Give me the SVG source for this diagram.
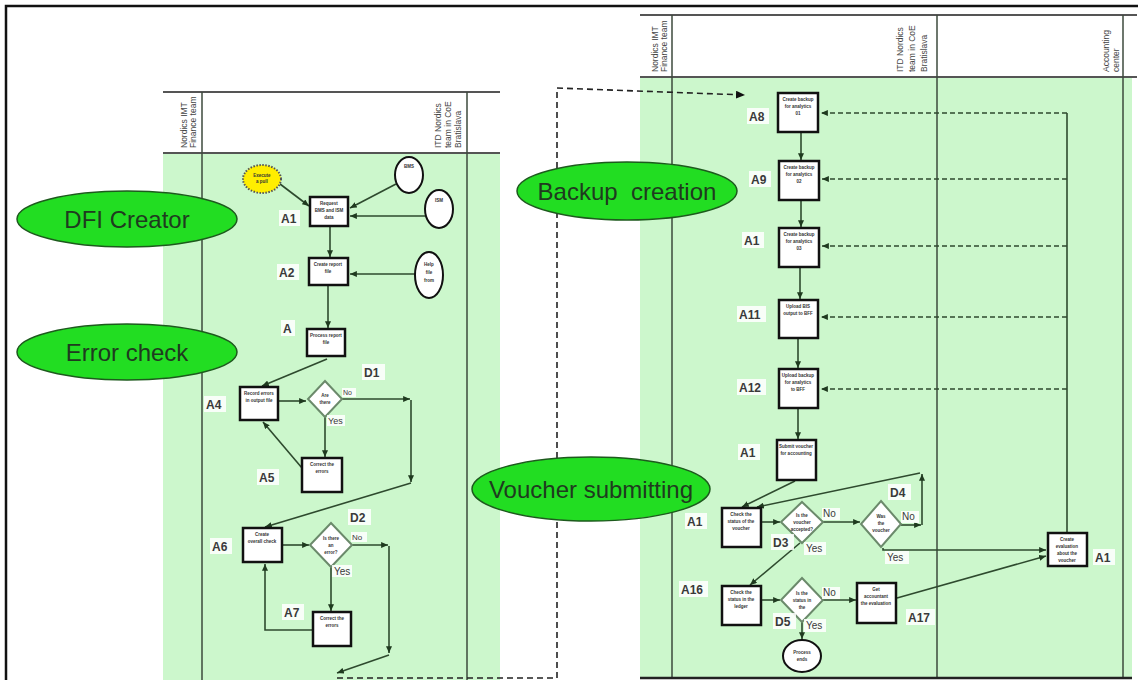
<svg xmlns="http://www.w3.org/2000/svg" width="1138" height="680" viewBox="0 0 1138 680">
<style>
.panel{fill:#ccf7cc}
.lane{stroke:#3c4a3c;stroke-width:1.5;fill:none}
.hl{stroke:#555;stroke-width:1.8;fill:none}
.ht{font-family:"Liberation Sans",Arial,sans-serif;font-size:8.5px;fill:#444}
.big{fill:#22dd22;stroke:#1d5a1d;stroke-width:1.5}
.bt{font-family:"Liberation Sans",Arial,sans-serif;font-size:24px;fill:#1f3a1f;text-anchor:middle}
.box{fill:#fff;stroke:#111;stroke-width:2.5}
.dia{fill:#fff;stroke:#6b8a6b;stroke-width:2}
.ell{fill:#fff;stroke:#111;stroke-width:2}
.nt{font-family:"Liberation Sans",Arial,sans-serif;font-size:4.5px;font-weight:bold;fill:#333;text-anchor:middle}
.lb{font-family:"Liberation Sans",Arial,sans-serif;font-size:12px;font-weight:bold;fill:#3a3a3a}
.yn{font-family:"Liberation Sans",Arial,sans-serif;font-size:9px;fill:#3a3a3a}
.lbg{fill:#fff;opacity:0.85}
.c{stroke:#2e4a2e;stroke-width:1.6;fill:none;marker-end:url(#ah)}
.cn{stroke:#2e4a2e;stroke-width:1.6;fill:none}
.cd{stroke:#2e4a2e;stroke-width:1.5;fill:none;stroke-dasharray:5 3;marker-end:url(#ah)}
.big-d{stroke:#222;stroke-width:1.6;fill:none;stroke-dasharray:6 4;marker-end:url(#ahk)}
</style>
<defs>
<marker id="ah" viewBox="0 0 8 7" refX="8" refY="3.5" markerWidth="7" markerHeight="6" markerUnits="userSpaceOnUse" orient="auto"><path d="M0,0 L8,3.5 L0,7 z" fill="#1f3a1f"/></marker>
<marker id="ahk" viewBox="0 0 8 7" refX="8" refY="3.5" markerWidth="9" markerHeight="8" markerUnits="userSpaceOnUse" orient="auto"><path d="M0,0 L8,3.5 L0,7 z" fill="#111"/></marker>
</defs>
<rect width="1138" height="680" fill="#fff"/>
<path d="M6,680 V6 H1138" stroke="#111" stroke-width="2.5" fill="none"/>

<!-- left panel -->
<g id="left-panel">
<rect class="panel" x="163" y="153" width="337" height="527"/>
<line class="hl" x1="163" y1="92" x2="500" y2="92"/>
<line class="hl" x1="163" y1="153" x2="500" y2="153"/>
<line class="lane" x1="202" y1="92" x2="202" y2="680"/>
<line class="lane" x1="467" y1="92" x2="467" y2="680"/>
<g class="ht">
<text transform="translate(187,148) rotate(-90)">Nordics IMT</text>
<text transform="translate(196,148) rotate(-90)">Finance team</text>
<text transform="translate(441,148) rotate(-90)">ITD Nordics</text>
<text transform="translate(451,148) rotate(-90)">team in CoE</text>
<text transform="translate(461,148) rotate(-90)">Bratislava</text>
</g>
</g>

<!-- right panel -->
<g id="right-panel">
<rect class="panel" x="640" y="77" width="492" height="601"/>
<line class="hl" x1="640" y1="15" x2="1137" y2="15"/>
<line class="hl" x1="640" y1="77" x2="1137" y2="77"/>
<line class="lane" x1="672" y1="15" x2="672" y2="678"/>
<line class="lane" x1="937" y1="15" x2="937" y2="678"/>
<line class="lane" x1="1123" y1="15" x2="1123" y2="678"/>
<line x1="640" y1="678" x2="1132" y2="678" stroke="#222" stroke-width="2.5"/>
<g class="ht">
<text transform="translate(658,72) rotate(-90)">Nordics IMT</text>
<text transform="translate(667,72) rotate(-90)">Finance team</text>
<text transform="translate(903,72) rotate(-90)">ITD Nordics</text>
<text transform="translate(915,72) rotate(-90)">team in CoE</text>
<text transform="translate(927,72) rotate(-90)">Bratislava</text>
<text transform="translate(1109,72) rotate(-90)">Accounting</text>
<text transform="translate(1119,72) rotate(-90)">center</text>
</g>
</g>

<!-- connectors -->
<g id="connectors">
<line class="c" x1="280" y1="184" x2="309" y2="206"/>
<line class="c" x1="396" y1="184" x2="350" y2="208"/>
<line class="c" x1="425" y1="216" x2="350" y2="216"/>
<line class="c" x1="330" y1="227" x2="330" y2="257"/>
<line class="c" x1="415" y1="274" x2="350" y2="274"/>
<line class="c" x1="328" y1="286" x2="328" y2="328"/>
<line class="c" x1="327" y1="359" x2="262" y2="386"/>
<line class="c" x1="279" y1="401" x2="306" y2="401"/>
<line class="c" x1="342" y1="399" x2="410" y2="399"/>
<line class="c" x1="411" y1="400" x2="411" y2="482"/>
<line class="c" x1="411" y1="483" x2="265" y2="527"/>
<line class="c" x1="325" y1="417" x2="325" y2="457"/>
<line class="c" x1="302" y1="468" x2="263" y2="422"/>
<line class="c" x1="283" y1="545" x2="309" y2="545"/>
<line class="c" x1="352" y1="545" x2="388" y2="545"/>
<line class="c" x1="389" y1="546" x2="389" y2="653"/>
<line class="c" x1="389" y1="655" x2="337" y2="673"/>
<line class="c" x1="331" y1="567" x2="331" y2="611"/>
<polyline class="c" points="313,630 265,630 265,564"/>
<path class="big-d" d="M337,678 H557 V88 L745,95"/>

<line class="c" x1="801" y1="133" x2="801" y2="160"/>
<line class="c" x1="801" y1="201" x2="801" y2="227"/>
<line class="c" x1="800" y1="268" x2="800" y2="299"/>
<line class="c" x1="798" y1="339" x2="798" y2="368"/>
<line class="c" x1="798" y1="409" x2="798" y2="439"/>
<line class="c" x1="795" y1="481" x2="742" y2="507"/>
<line class="c" x1="762" y1="522" x2="780" y2="522"/>
<line class="c" x1="823" y1="522" x2="860" y2="522"/>
<line class="c" x1="901" y1="525" x2="921" y2="525"/>
<line class="c" x1="922" y1="525" x2="922" y2="474"/>
<line class="c" x1="920" y1="473" x2="757" y2="507"/>
<polyline class="c" points="883,548 883,550 1046,550"/>
<line class="c" x1="800" y1="543" x2="750" y2="585"/>
<line class="c" x1="762" y1="600" x2="780" y2="600"/>
<line class="c" x1="823" y1="600" x2="856" y2="600"/>
<line class="c" x1="897" y1="598" x2="1046" y2="556"/>
<line class="c" x1="802" y1="622" x2="802" y2="639"/>
<line class="cn" x1="1067" y1="113" x2="1067" y2="533"/>
<line class="cd" x1="1067" y1="113" x2="821" y2="113"/>
<line class="cd" x1="1067" y1="179" x2="822" y2="179"/>
<line class="cd" x1="1067" y1="246" x2="822" y2="246"/>
<line class="cd" x1="1067" y1="317" x2="821" y2="317"/>
<line class="cd" x1="1067" y1="389" x2="821" y2="389"/>
</g>

<!-- phase ellipses -->
<g id="phase-dfi"><ellipse class="big" cx="127" cy="219" rx="110" ry="28"/><text class="bt" x="127" y="228">DFI Creator</text></g>
<g id="phase-error"><ellipse class="big" cx="127" cy="352" rx="110" ry="28"/><text class="bt" x="127" y="361">Error check</text></g>
<g id="phase-backup"><ellipse class="big" cx="627" cy="191" rx="110" ry="29"/><text class="bt" x="627" y="200" xml:space="preserve">Backup  creation</text></g>
<g id="phase-voucher"><ellipse class="big" cx="591" cy="489" rx="119" ry="32"/><text class="bt" x="591" y="498">Voucher submitting</text></g>

<!-- left nodes -->
<g id="start"><ellipse cx="262" cy="179" rx="19" ry="14" fill="#ffee00" stroke="#555" stroke-width="2" stroke-dasharray="1.5 1.5"/><text class="nt" x="262" y="177">Execute</text><text class="nt" x="262" y="183">a pull</text></g>
<g id="in-bms"><ellipse class="ell" cx="409" cy="175" rx="14" ry="18"/><text class="nt" x="409" y="168">BMS</text></g>
<g id="in-ism"><ellipse class="ell" cx="439" cy="209" rx="14" ry="19"/><text class="nt" x="439" y="202">ISM</text></g>
<g id="in-help"><ellipse class="ell" cx="429" cy="275" rx="14" ry="23"/><text class="nt" x="429" y="266">Help</text><text class="nt" x="429" y="274">file</text><text class="nt" x="429" y="282">from</text></g>
<g id="A1"><rect class="box" x="310" y="197" width="38" height="29"/><text class="nt" x="329" y="205">Request</text><text class="nt" x="329" y="212">BMS and ISM</text><text class="nt" x="329" y="219">data</text></g>
<g id="A2"><rect class="box" x="309" y="258" width="39" height="27"/><text class="nt" x="328" y="266">Create report</text><text class="nt" x="328" y="273">file</text></g>
<g id="A3"><rect class="box" x="307" y="329" width="38" height="27"/><text class="nt" x="326" y="337">Process report</text><text class="nt" x="326" y="344">file</text></g>
<g id="A4"><rect class="box" x="240" y="387" width="38" height="33"/><text class="nt" x="259" y="395">Record errors</text><text class="nt" x="259" y="402">in output file</text></g>
<g id="D1"><polygon class="dia" points="325,381 342,399 325,417 308,399"/><text class="nt" x="325" y="397">Are</text><text class="nt" x="325" y="404">there</text></g>
<g id="A5"><rect class="box" x="302" y="458" width="40" height="34"/><text class="nt" x="322" y="466">Correct the</text><text class="nt" x="322" y="473">errors</text></g>
<g id="A6"><rect class="box" x="243" y="528" width="39" height="34"/><text class="nt" x="262" y="536">Create</text><text class="nt" x="262" y="543">overall check</text></g>
<g id="D2"><polygon class="dia" points="331,523 352,545 331,567 310,545"/><text class="nt" x="331" y="540">Is there</text><text class="nt" x="331" y="547">an</text><text class="nt" x="331" y="554">error?</text></g>
<g id="A7"><rect class="box" x="313" y="612" width="38" height="34"/><text class="nt" x="332" y="620">Correct the</text><text class="nt" x="332" y="627">errors</text></g>

<!-- right nodes -->
<g id="A8"><rect class="box" x="778" y="93" width="40" height="39"/><text class="nt" x="798" y="101">Create backup</text><text class="nt" x="798" y="108">for analytics</text><text class="nt" x="798" y="115">01</text></g>
<g id="A9"><rect class="box" x="779" y="161" width="40" height="39"/><text class="nt" x="799" y="169">Create backup</text><text class="nt" x="799" y="176">for analytics</text><text class="nt" x="799" y="183">02</text></g>
<g id="A10"><rect class="box" x="779" y="228" width="40" height="39"/><text class="nt" x="799" y="236">Create backup</text><text class="nt" x="799" y="243">for analytics</text><text class="nt" x="799" y="250">03</text></g>
<g id="A11"><rect class="box" x="779" y="300" width="39" height="38"/><text class="nt" x="798" y="308">Upload BIS</text><text class="nt" x="798" y="315">output to BFF</text></g>
<g id="A12"><rect class="box" x="779" y="369" width="39" height="39"/><text class="nt" x="798" y="377">Upload backup</text><text class="nt" x="798" y="384">for analytics</text><text class="nt" x="798" y="391">to BFF</text></g>
<g id="A13"><rect class="box" x="777" y="440" width="39" height="40"/><text class="nt" x="796" y="448">Submit voucher</text><text class="nt" x="796" y="455">for accounting</text></g>
<g id="A14"><rect class="box" x="722" y="508" width="39" height="39"/><text class="nt" x="741" y="516">Check the</text><text class="nt" x="741" y="523">status of the</text><text class="nt" x="741" y="530">voucher</text></g>
<g id="D3"><polygon class="dia" points="802,502 823,522 802,543 781,522"/><text class="nt" x="802" y="517">Is the</text><text class="nt" x="802" y="524">voucher</text><text class="nt" x="802" y="531">accepted?</text></g>
<g id="D4"><polygon class="dia" points="881,501 901,524 881,547 861,524"/><text class="nt" x="881" y="518">Was</text><text class="nt" x="881" y="525">the</text><text class="nt" x="881" y="532">voucher</text></g>
<g id="A15"><rect class="box" x="1048" y="533" width="39" height="33"/><text class="nt" x="1067" y="541">Create</text><text class="nt" x="1067" y="548">evaluation</text><text class="nt" x="1067" y="555">about the</text><text class="nt" x="1067" y="562">voucher</text></g>
<g id="A16"><rect class="box" x="722" y="586" width="39" height="39"/><text class="nt" x="741" y="594">Check the</text><text class="nt" x="741" y="601">status in the</text><text class="nt" x="741" y="608">ledger</text></g>
<g id="D5"><polygon class="dia" points="802,578 823,600 802,622 781,600"/><text class="nt" x="802" y="595">Is the</text><text class="nt" x="802" y="602">status in</text><text class="nt" x="802" y="609">the</text></g>
<g id="A17"><rect class="box" x="857" y="583" width="39" height="40"/><text class="nt" x="876" y="591">Get</text><text class="nt" x="876" y="598">accountant</text><text class="nt" x="876" y="605">the evaluation</text></g>
<g id="end"><ellipse class="ell" cx="802" cy="656" rx="19" ry="16"/><text class="nt" x="802" y="654">Process</text><text class="nt" x="802" y="661">ends</text></g>

<!-- labels -->
<g id="labels">
<rect class="lbg" x="279" y="210" width="21" height="16"/><text class="lb" x="281" y="223">A1</text>
<rect class="lbg" x="277" y="264" width="22" height="16"/><text class="lb" x="279" y="277">A2</text>
<rect class="lbg" x="281" y="320" width="14" height="16"/><text class="lb" x="283" y="333">A</text>
<rect class="lbg" x="204" y="396" width="22" height="16"/><text class="lb" x="206" y="409">A4</text>
<rect class="lbg" x="362" y="364" width="23" height="16"/><text class="lb" x="364" y="377">D1</text>
<rect class="lbg" x="342" y="388" width="14" height="9"/><text class="yn" x="343" y="395" style="font-size:7px">No</text>
<rect class="lbg" x="327" y="415" width="18" height="11"/><text class="yn" x="328" y="424">Yes</text>
<rect class="lbg" x="257" y="469" width="22" height="16"/><text class="lb" x="259" y="482">A5</text>
<rect class="lbg" x="210" y="538" width="22" height="16"/><text class="lb" x="212" y="551">A6</text>
<rect class="lbg" x="348" y="509" width="23" height="16"/><text class="lb" x="350" y="522">D2</text>
<rect class="lbg" x="351" y="532" width="16" height="10"/><text class="yn" x="352" y="540" style="font-size:8px">No</text>
<rect class="lbg" x="332" y="565" width="20" height="12"/><text class="yn" x="334" y="575" style="font-size:10px">Yes</text>
<rect class="lbg" x="282" y="604" width="22" height="16"/><text class="lb" x="284" y="617">A7</text>

<rect class="lbg" x="747" y="108" width="22" height="16"/><text class="lb" x="749" y="121">A8</text>
<rect class="lbg" x="749" y="171" width="22" height="16"/><text class="lb" x="751" y="184">A9</text>
<rect class="lbg" x="742" y="232" width="22" height="16"/><text class="lb" x="744" y="245">A1</text>
<rect class="lbg" x="737" y="306" width="29" height="16"/><text class="lb" x="739" y="319">A11</text>
<rect class="lbg" x="737" y="379" width="29" height="16"/><text class="lb" x="739" y="392">A12</text>
<rect class="lbg" x="738" y="444" width="22" height="16"/><text class="lb" x="740" y="457">A1</text>
<rect class="lbg" x="685" y="513" width="22" height="16"/><text class="lb" x="687" y="526">A1</text>
<rect class="lbg" x="771" y="534" width="23" height="16"/><text class="lb" x="773" y="547">D3</text>
<rect class="lbg" x="804" y="542" width="22" height="13"/><text class="yn" x="806" y="552" style="font-size:10px">Yes</text>
<rect class="lbg" x="822" y="508" width="18" height="12"/><text class="yn" x="823" y="517" style="font-size:10px">No</text>
<rect class="lbg" x="888" y="484" width="23" height="16"/><text class="lb" x="890" y="497">D4</text>
<rect class="lbg" x="901" y="511" width="18" height="12"/><text class="yn" x="902" y="520" style="font-size:10px">No</text>
<rect class="lbg" x="885" y="551" width="24" height="13"/><text class="yn" x="887" y="561" style="font-size:10px">Yes</text>
<rect class="lbg" x="1093" y="549" width="22" height="16"/><text class="lb" x="1095" y="562">A1</text>
<rect class="lbg" x="679" y="581" width="29" height="16"/><text class="lb" x="681" y="594">A16</text>
<rect class="lbg" x="773" y="613" width="23" height="16"/><text class="lb" x="775" y="626">D5</text>
<rect class="lbg" x="804" y="619" width="22" height="13"/><text class="yn" x="806" y="629" style="font-size:10px">Yes</text>
<rect class="lbg" x="822" y="587" width="18" height="12"/><text class="yn" x="823" y="596" style="font-size:10px">No</text>
<rect class="lbg" x="906" y="609" width="29" height="16"/><text class="lb" x="908" y="622">A17</text>
</g>
</svg>
